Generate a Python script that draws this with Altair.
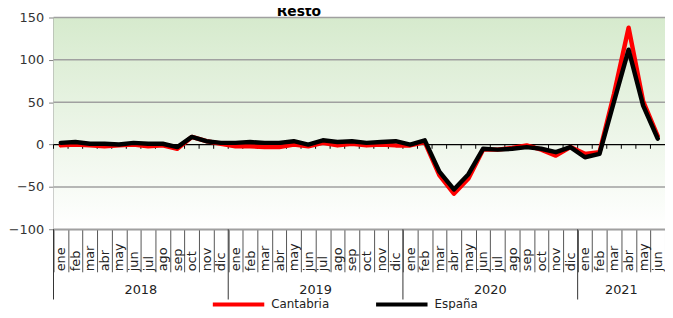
import altair as alt
import pandas as pd

title = "Resto"
months = ["ene", "feb", "mar", "abr", "may", "jun", "jul", "ago", "sep", "oct", "nov", "dic"]
years = ["2018", "2019", "2020", "2021"]
year_counts = [12, 12, 12, 6]
cantabria = [-1, 0, -1, -2, -1, 0, -2, -1, -5, 9, 4, 1,
             -2, -2, -3, -3, 0, -2, 2, -1, 1, -1, 0, -1,
             -1, 3, -36, -58, -40, -6, -6, -4, -1, -6, -13, -3,
             -11, -9, 60, 138, 51, 10]
espana = [2, 3, 1, 1, 0, 2, 1, 1, -3, 9, 4, 2,
          2, 3, 2, 2, 4, 0, 5, 3, 4, 2, 3, 4,
          0, 5, -32, -53, -35, -5, -6, -5, -3, -5, -9, -3,
          -15, -11, 51, 112, 46, 7]
series_names = ["Cantabria", "España"]
series_colors = ["#ff0000", "#000000"]
y_ticks = [-100, -50, 0, 50, 100, 150]

W, H = 618, 214
FONT = "DejaVu Sans"

keys = []
for y, n in zip(years, year_counts):
    for m in months[:n]:
        keys.append(f"{m} {y}")

rows = []
for name, vals in zip(series_names, [cantabria, espana]):
    for k, v in zip(keys, vals):
        rows.append({"key": k, "serie": name, "value": v})
df = pd.DataFrame(rows)

xscale = alt.Scale(type="band", domain=keys, paddingInner=0, paddingOuter=0)
yscale = alt.Scale(domain=[-100, 150], nice=False)

xaxis = alt.Axis(labelExpr="split(datum.label, ' ')[0]", labelAngle=270,
                 labelAlign="left", labelBaseline="middle", labelPadding=-1,
                 tickBand="extent", tickSize=43, tickColor="#555555", tickWidth=1,
                 domainColor="#999999", domainWidth=1.5, labelFontSize=13,
                 labelColor="#222222", labelFont=FONT, labelOverlap=False,
                 labelBound=False, grid=False, title=None)
yaxis = alt.Axis(values=y_ticks, grid=False, domainColor="#808080", tickColor="#808080",
                 tickSize=5, labelFontSize=13, labelPadding=5, labelColor="#333333",
                 labelFont=FONT, domainWidth=1.5, title=None)

bg = alt.Chart(pd.DataFrame({"a": [150], "b": [-100]})).mark_rect(
    color=alt.Gradient(
        gradient="linear",
        stops=[alt.GradientStop(color="#d6eacd", offset=0),
               alt.GradientStop(color="#ffffff", offset=1)],
        x1=0, x2=0, y1=0, y2=1,
    )
).encode(
    x=alt.value(0), x2=alt.value(W),
    y=alt.Y("a:Q", scale=yscale, axis=yaxis, title=None), y2="b:Q",
)

grid = alt.Chart(pd.DataFrame({"v": [t for t in y_ticks if t != 0]})).mark_rule(
    color="#a0a0a0", strokeWidth=1.5
).encode(y=alt.Y("v:Q", scale=yscale, axis=yaxis, title=None))

zero = alt.Chart(pd.DataFrame({"v": [0]})).mark_rule(color="#000000", strokeWidth=1.2).encode(
    y=alt.Y("v:Q", scale=yscale, axis=yaxis, title=None)
)

zticks = alt.Chart(pd.DataFrame({"key": keys, "a": 0, "b": -5})).mark_rule(
    color="#000000", strokeWidth=1
).encode(
    x=alt.X("key:O", scale=xscale, axis=xaxis, bandPosition=0, title=None),
    y=alt.Y("a:Q", scale=yscale, axis=yaxis, title=None), y2="b:Q",
)

lines = alt.Chart(df).mark_line(strokeWidth=4.5, strokeJoin="round", strokeCap="round").encode(
    x=alt.X("key:O", scale=xscale, bandPosition=0.5, title=None, axis=xaxis),
    y=alt.Y("value:Q", scale=yscale, title=None, axis=yaxis),
    color=alt.Color("serie:N", scale=alt.Scale(domain=series_names, range=series_colors),
                    sort=series_names,
                    legend=alt.Legend(title=None, orient="none", direction="horizontal",
                                      legendX=159, legendY=262, symbolType="stroke",
                                      symbolSize=2704, symbolStrokeWidth=4, labelOffset=5,
                                      columnPadding=39, labelFontSize=12, labelFont=FONT,
                                      labelColor="#222222", padding=0)),
    order=alt.Order("serie:N"),
)

ystart = []
ycenter = []
start = 0
for y, n in zip(years, year_counts):
    ystart.append(keys[start])
    ycenter.append(keys[start + n // 2])
    start += n
ydf = pd.DataFrame({"start": ystart, "center": ycenter, "year": years})

yrules = alt.Chart(ydf).mark_rule(color="#333333", strokeWidth=1).encode(
    x=alt.X("start:O", scale=xscale, axis=xaxis, bandPosition=0, title=None),
    y=alt.value(H), y2=alt.value(H + 71),
)
ytext = alt.Chart(ydf).mark_text(fontSize=13, font=FONT, color="#222222", baseline="middle").encode(
    x=alt.X("center:O", scale=xscale, axis=xaxis, bandPosition=0, title=None),
    y=alt.value(H + 61), text="year:N",
)

ttl = alt.Chart(pd.DataFrame({"t": [title]})).mark_text(
    fontSize=14, fontWeight="bold", font=FONT, color="#000000", baseline="alphabetic"
).encode(x=alt.value(248), y=alt.value(-2), text="t:N")

chart = alt.layer(bg, grid, zero, zticks, lines, yrules, ytext, ttl).properties(
    width=W, height=H,
    padding={"left": 46, "top": 8, "right": 0, "bottom": 80},
    autosize=alt.AutoSizeParams(type="none"),
).configure_view(stroke=None)

chart.save("out.html", embed_options={"renderer": "svg", "actions": False})
